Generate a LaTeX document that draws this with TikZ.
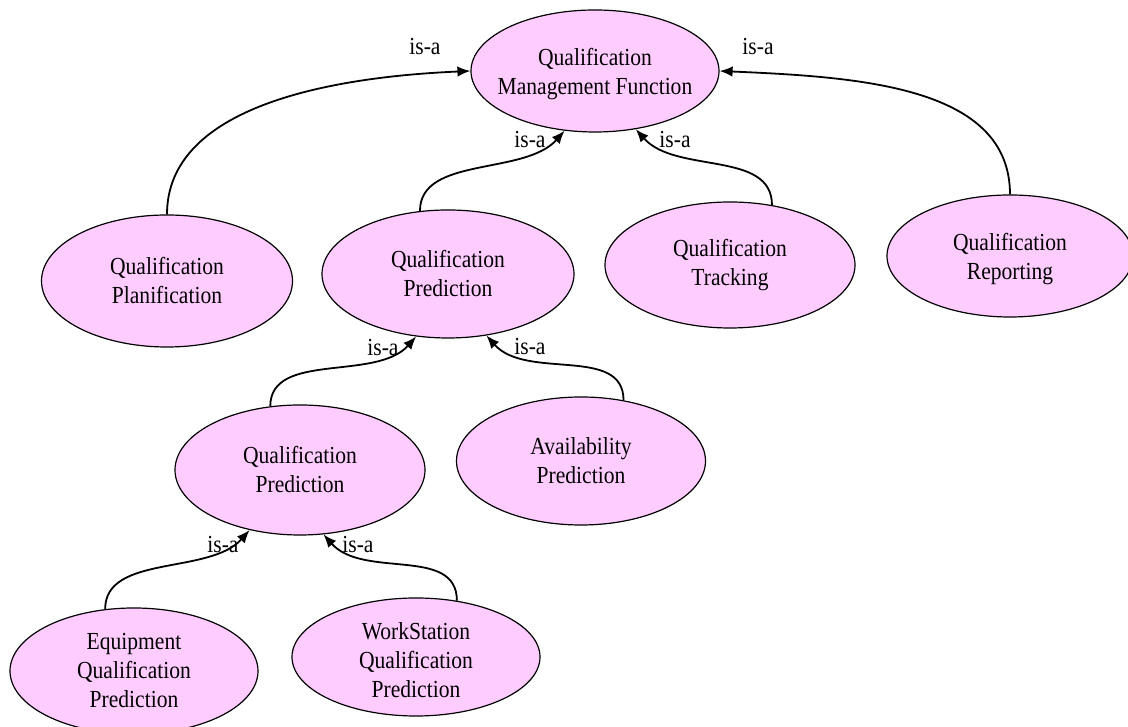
\documentclass[tikz,border=0pt]{standalone}
\usepackage{fontspec}
\setmainfont{Liberation Serif}
\newfontfamily\entfont{Liberation Serif}[FakeStretch=0.88]
\usetikzlibrary{shapes.geometric,arrows.meta}
\definecolor{pinkfill}{HTML}{FFCCFF}
\begin{document}
\begin{tikzpicture}[x=1pt,y=1pt,
  ent/.style={ellipse, draw=black, fill=pinkfill, line width=1.2pt, inner sep=0pt},
  enttxt/.style={align=center, font=\entfont\fontsize{24.5}{29}\selectfont, inner sep=0pt},
  isa/.style={draw=black, line width=1.8pt, -{Latex[length=13pt,width=10.5pt]}},
  isalbl/.style={font=\entfont\fontsize{24.5}{28}\selectfont, inner sep=0pt}]
\useasboundingbox (0,0) rectangle (1128,727);
\node[ent, minimum width=248pt, minimum height=122pt, label={[enttxt,yshift=-3pt]center:Qualification\\Management Function}] (qmf) at (595,656) {};
\node[ent, minimum width=251pt, minimum height=132pt, label={[enttxt]center:Qualification\\Planification}] (plan) at (167,446) {};
\node[ent, minimum width=252pt, minimum height=128pt, label={[enttxt]center:Qualification\\Prediction}] (mqp) at (448,453) {};
\node[ent, minimum width=250pt, minimum height=126pt, label={[enttxt]center:Qualification\\Tracking}] (track) at (730,462) {};
\node[ent, minimum width=246pt, minimum height=122pt, label={[enttxt,yshift=-3pt]center:Qualification\\Reporting}] (rep) at (1010,471) {};
\node[ent, minimum width=250pt, minimum height=130pt, label={[enttxt]center:Qualification\\Prediction}] (lqp) at (300,257) {};
\node[ent, minimum width=249pt, minimum height=128pt, label={[enttxt]center:Availability\\Prediction}] (avail) at (581,266) {};
\node[ent, minimum width=248pt, minimum height=126pt, label={[enttxt]center:Equipment\\Qualification\\Prediction}] (equip) at (134,56) {};
\node[ent, minimum width=248pt, minimum height=118pt, label={[enttxt,yshift=-3pt]center:WorkStation\\Qualification\\Prediction}] (ws) at (416,70) {};

\draw[isa] (plan.north) .. controls +(0,108) and +(-140,-6) .. (qmf.west);
\draw[isa] (rep.north) .. controls +(0,108) and +(140,-6) .. (qmf.east);
\draw[isa] (mqp.114) .. controls +(0,55) and +(-40,-45) .. (qmf.243);
\draw[isa] (track.55) .. controls +(0,55) and +(40,-45) .. (qmf.305);
\draw[isa] (lqp.115) .. controls +(0,55) and +(-40,-45) .. (mqp.243);
\draw[isa] (avail.55) .. controls +(0,55) and +(40,-45) .. (mqp.302);
\draw[isa] (equip.115) .. controls +(0,55) and +(-40,-45) .. (lqp.230);
\draw[isa] (ws.54) .. controls +(0,55) and +(40,-45) .. (lqp.290);

\node[isalbl] (l1) at (425,680) {is-a};
\node[isalbl] (l2) at (758,680) {is-a};
\node[isalbl] (l3) at (530,587) {is-a};
\node[isalbl] (l4) at (675,587) {is-a};
\node[isalbl] (l5) at (383,379) {is-a};
\node[isalbl] (l6) at (530,380) {is-a};
\node[isalbl] (l7) at (223,182) {is-a};
\node[isalbl] (l8) at (358,182) {is-a};
\end{tikzpicture}
\end{document}
